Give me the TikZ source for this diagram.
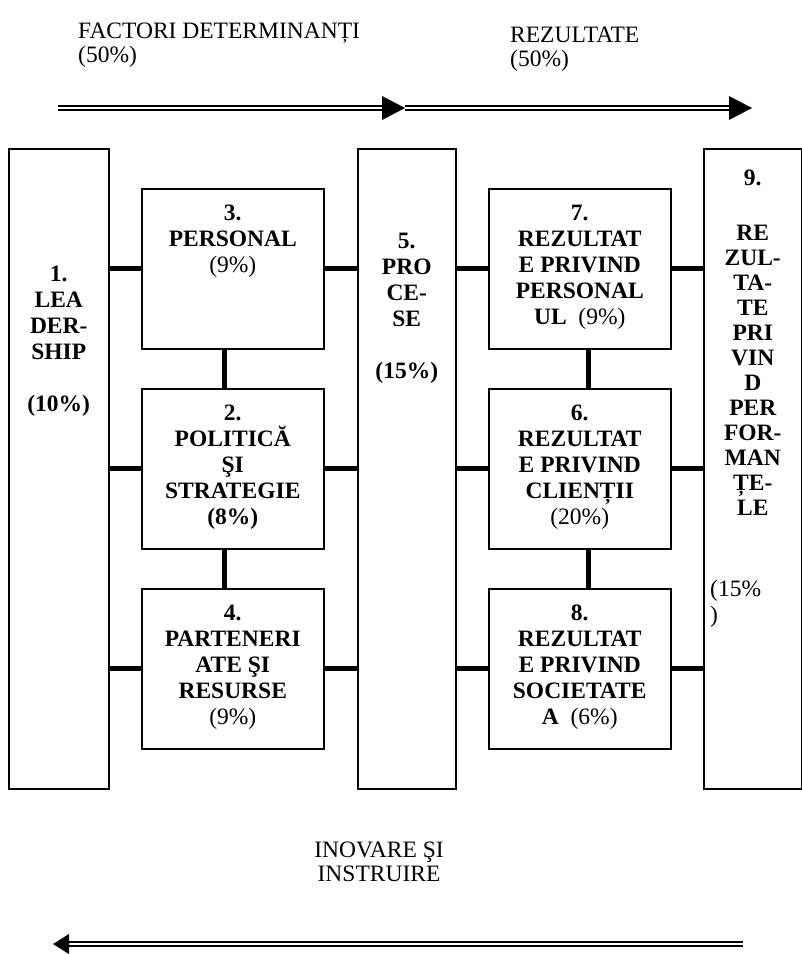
\documentclass[tikz,border=0pt]{standalone}
\usepackage{fontspec}
\setmainfont{Liberation Serif}
\begin{document}
\begin{tikzpicture}[x=1pt,y=-1pt,
  panel/.style={draw, line width=1.5pt, inner sep=0pt, anchor=north west},
  boxtxt/.style={inner sep=0pt, align=center, anchor=north,
    font=\fontsize{23.5}{26}\selectfont\bfseries},
  plain/.style={inner sep=0pt, font=\fontsize{23.5}{24}\selectfont},
  link/.style={line width=5pt},
  rail/.style={double, double distance=2.5pt, line width=2pt}]
\useasboundingbox (0,0) rectangle (802,954);

% headings
\node[plain, align=left, anchor=north west] (hf) at (78,23) {FACTORI DETERMINANȚI\\(50\%)};
\node[plain, align=left, anchor=north west] (hr) at (510,27) {REZULTATE\\(50\%)};

% forward flow arrows
\coordinate (a1s) at (58,108);  \coordinate (a1b) at (382,108); \coordinate (a1t) at (405,108);
\coordinate (a2s) at (405,108); \coordinate (a2b) at (729,108); \coordinate (a2t) at (752,108);
\draw[rail] (a1s) -- (a1b);
\fill (a1t) -- ++(-23,-12) -- ++(0,24) -- cycle;
\draw[rail] (a2s) -- (a2b);
\fill (a2t) -- ++(-23,-12) -- ++(0,24) -- cycle;

% tall columns
\node[panel, minimum width=100pt, minimum height=640pt] (b1) at (8,148) {};
\node[panel, minimum width=98pt,  minimum height=640pt] (b5) at (357,148) {};
\node[panel, minimum width=98pt,  minimum height=640pt] (b9) at (703,148) {};

% enabler boxes
\node[panel, minimum width=182pt, minimum height=160pt] (b3) at (141,188) {};
\node[panel, minimum width=182pt, minimum height=160pt] (b2) at (141,388) {};
\node[panel, minimum width=182pt, minimum height=160pt] (b4) at (141,588) {};

% result boxes
\node[panel, minimum width=182pt, minimum height=160pt] (b7) at (488,188) {};
\node[panel, minimum width=182pt, minimum height=160pt] (b6) at (488,388) {};
\node[panel, minimum width=182pt, minimum height=160pt] (b8) at (488,588) {};

% texts
\node[boxtxt] (t1) at ([yshift=-118pt]b1.north) {1.\\LEA\\DER-\\SHIP\\[26pt](10\%)};
\node[boxtxt] (t5) at ([yshift=-85pt]b5.north) {5.\\PRO\\CE-\\SE\\[26pt](15\%)};
\node[boxtxt, font=\fontsize{23.5}{25}\selectfont\bfseries] (t9) at ([yshift=-22pt]b9.north) {9.\\[30pt]RE\\ZUL-\\TA-\\TE\\PRI\\VIN\\D\\PER\\FOR-\\MAN\\ȚE-\\LE};
\node[plain, font=\fontsize{23.5}{26}\selectfont, align=left, anchor=north west] (t9p) at (710,580) {(15\%\\)};

\node[boxtxt] (t3) at ([yshift=-17pt]b3.north) {3.\\PERSONAL\\\mdseries(9\%)};
\node[boxtxt] (t2) at ([yshift=-17pt]b2.north) {2.\\POLITICĂ\\ŞI\\STRATEGIE\\(8\%)};
\node[boxtxt] (t4) at ([yshift=-17pt]b4.north) {4.\\PARTENERI\\ATE ŞI\\RESURSE\\\mdseries(9\%)};

\node[boxtxt] (t7) at ([yshift=-17pt]b7.north) {7.\\REZULTAT\\E PRIVIND\\PERSONAL\\UL\ \ \mdseries(9\%)};
\node[boxtxt] (t6) at ([yshift=-17pt]b6.north) {6.\\REZULTAT\\E PRIVIND\\CLIENȚII\\\mdseries(20\%)};
\node[boxtxt] (t8) at ([yshift=-17pt]b8.north) {8.\\REZULTAT\\E PRIVIND\\SOCIETATE\\A\ \ \mdseries(6\%)};

% horizontal links
\foreach \l/\m/\r/\s in {b3/b1/b5/b7, b2/b1/b5/b6, b4/b1/b5/b8}{
  \draw[link] (\m.east |- \l.west) -- (\l.west);
  \draw[link] (\l.east) -- (\l.east -| \r.west);
  \draw[link] (\r.east |- \s.west) -- (\s.west);
  \draw[link] (\s.east) -- (\s.east -| b9.west);
}

% vertical links
\draw[link] ([xshift=-8.5pt]b3.south) -- ([xshift=-8.5pt]b2.north);
\draw[link] ([xshift=-8.5pt]b2.south) -- ([xshift=-8.5pt]b4.north);
\draw[link] ([xshift=9pt]b7.south) -- ([xshift=9pt]b6.north);
\draw[link] ([xshift=9pt]b6.south) -- ([xshift=9pt]b8.north);

% feedback
\node[plain, align=center, anchor=north] (fb) at (379,842) {INOVARE ŞI\\INSTRUIRE};
\coordinate (a3s) at (743,944); \coordinate (a3b) at (69,944); \coordinate (a3t) at (53,944);
\draw[rail] (a3s) -- (a3b);
\fill (a3t) -- ++(16,-10) -- ++(0,20) -- cycle;
\end{tikzpicture}
\end{document}
